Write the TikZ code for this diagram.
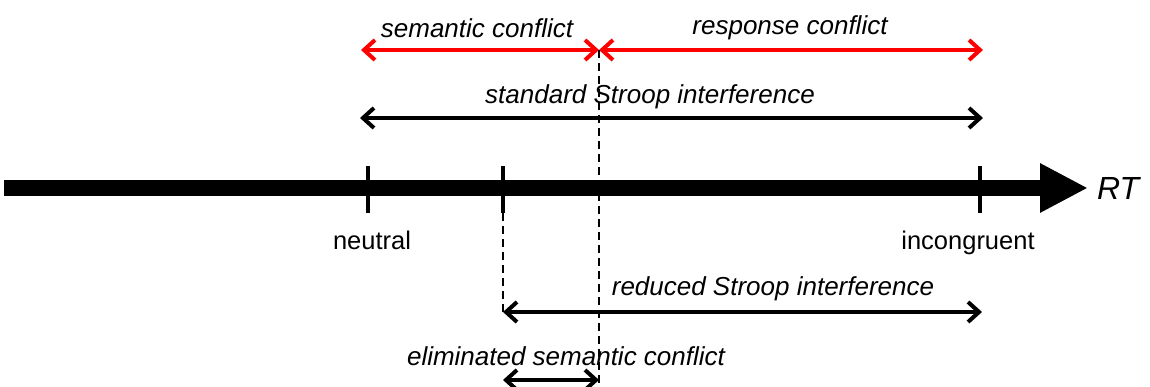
\documentclass[tikz,border=0pt]{standalone}
\usepackage{fontspec}
\setmainfont{Liberation Sans}
\usepackage{tikz}
\usetikzlibrary{arrows.meta,positioning}

\tikzset{
  axis/.style={line width=16pt, -{Triangle[length=48pt,width=46pt]}},
  span/.style={line width=4pt, {Straight Barb[length=11pt,width=20pt]}-{Straight Barb[length=11pt,width=20pt]}},
  conflict/.style={span, red},
  guide/.style={line width=1.5pt, dash pattern=on 8pt off 5pt},
  tickmark/.style={fill=black, inner sep=0pt, minimum width=3.5pt, minimum height=47pt},
  lbl/.style={anchor=base, inner sep=0pt, font=\fontsize{26}{31}\selectfont\itshape},
  condlbl/.style={anchor=base, inner sep=0pt, font=\fontsize{25.5}{30}\selectfont},
  rtlbl/.style={inner sep=0pt, font=\fontsize{32}{38}\selectfont\itshape}
}

\begin{document}
\begin{tikzpicture}[x=1pt,y=1pt]
	  \useasboundingbox (0,0) rectangle (1150,387);
	  % RT axis
	  \coordinate (t0) at (4,199);
	  \coordinate (t1) at (1088,199);
	  \draw[axis] (t0) -- (t1);
	  \node[rtlbl, right=9pt of t1] (rt) {RT};

	  \node[tickmark] (neu) at (368,197.5) {};
	  \node[tickmark] (red) at (503,197.5) {};
	  \node[tickmark] (inc) at (980,197.5) {};
	  \node[condlbl] (neulbl) at (372,137) {neutral};
	  \node[condlbl] (inclbl) at (968,137) {incongruent};

	  % conflicts
	  \coordinate (semL) at (361,337);
	  \coordinate (mid) at (599,337);
	  \coordinate (resR) at (983,337);
	  \draw[conflict] (semL) -- (mid);
	  \draw[conflict] (mid) -- (resR);
	  \node[lbl] (sem) at (477,349) {semantic conflict};
	  \node[lbl] (res) at (790,352) {response conflict};

	  % interference
	  \coordinate (stdL) at (360,269);
	  \coordinate (stdR) at (983,269);
	  \draw[span] (stdL) -- (stdR);
	  \node[lbl] (std) at (650,283) {standard Stroop interference};

	  \coordinate (redL) at (503,75);
	  \coordinate (redR) at (982,75);
	  \draw[span] (redL) -- (redR);
	  \node[lbl] (redlbl) at (773,91) {reduced Stroop interference};

	  \coordinate (elimL) at (503,7);
	  \coordinate (elimR) at (599,7);
	  \draw[span] (elimL) -- (elimR);
	  \node[lbl] (elim) at (566,21) {eliminated semantic conflict};

	  % guides
	  \coordinate (bot) at (599,0);
	  \draw[guide] (mid) -- (bot);
	  \draw[guide] (red.south) -- (redL);
\end{tikzpicture}
\end{document}
